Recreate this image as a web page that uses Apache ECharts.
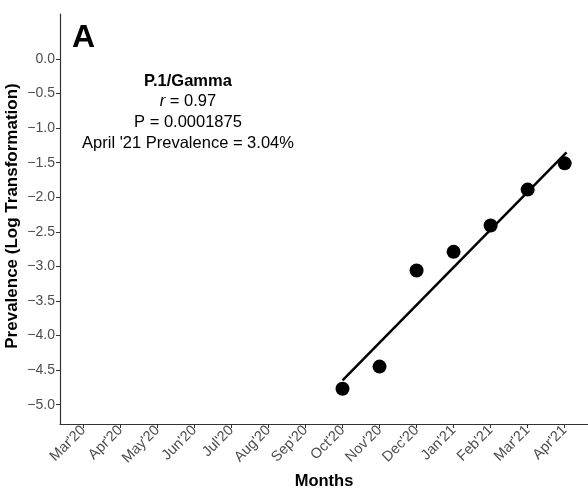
<!DOCTYPE html>
<html>
<head>
<meta charset="utf-8">
<script src="https://cdn.jsdelivr.net/npm/echarts@6/dist/echarts.min.js"></script>
<style>
  html, body { margin: 0; padding: 0; background: #fff; }
  #chart { width: 588px; height: 493px; }
</style>
</head>
<body>
<div id="chart"></div>
<script>
const months = ["Mar'20", "Apr'20", "May'20", "Jun'20", "Jul'20", "Aug'20", "Sep'20",
  "Oct'20", "Nov'20", "Dec'20", "Jan'21", "Feb'21", "Mar'21", "Apr'21"];
const pointMonths = [7, 8, 9, 10, 11, 12, 13];
const prevalence = [-4.77, -4.45, -3.06, -2.79, -2.41, -1.89, -1.51];
const fitX = [7, 13.05];
const fitY = [-4.65, -1.35];
const yTicks = [0, -0.5, -1, -1.5, -2, -2.5, -3, -3.5, -4, -4.5, -5];

const font = 'Liberation Sans';
const chart = echarts.init(document.getElementById('chart'));

chart.setOption({
  animation: false,
  textStyle: { fontFamily: font },
  grid: { left: 60, right: 0, top: 14, bottom: 69, containLabel: false, outerBoundsMode: 'none' },
  xAxis: {
    type: 'value',
    min: -0.63,
    max: 13.63,
    name: 'Months',
    nameLocation: 'middle',
    nameGap: 49,
    nameMoveOverlap: false,
    nameTextStyle: { fontFamily: font, fontSize: 16.5, fontWeight: 'bold', color: '#000' },
    splitLine: { show: false },
    axisLine: { show: true, onZero: false, lineStyle: { color: '#333', width: 1.2 } },
    axisTick: { show: true, length: 4, customValues: months.map((m, i) => i), lineStyle: { color: '#333' } },
    axisLabel: {
      customValues: months.map((m, i) => i),
      formatter: v => months[Math.round(v)],
      rotate: 45,
      color: '#4d4d4d',
      fontSize: 14.5,
      margin: 4
    }
  },
  yAxis: {
    type: 'value',
    min: -5.28,
    max: 0.65,
    splitLine: { show: false },
    axisLine: { show: true, onZero: false, lineStyle: { color: '#333', width: 1.2 } },
    axisTick: { show: true, length: 4, customValues: yTicks, lineStyle: { color: '#333' } },
    axisLabel: {
      customValues: yTicks,
      formatter: v => v.toFixed(1).replace('-', '\u2212'),
      color: '#4d4d4d',
      fontSize: 14,
      margin: 5
    }
  },
  series: [
    {
      type: 'line',
      data: fitX.map((x, i) => [x, fitY[i]]),
      showSymbol: false,
      lineStyle: { color: '#000', width: 2.5 },
      z: 2
    },
    {
      type: 'scatter',
      data: pointMonths.map((x, i) => [x, prevalence[i]]),
      symbolSize: 14,
      itemStyle: { color: '#000', opacity: 1 },
      z: 3
    }
  ],
  graphic: [
    {
      type: 'text',
      x: 12,
      y: 216,
      rotation: Math.PI / 2,
      style: {
        text: 'Prevalence (Log Transformation)',
        align: 'center',
        verticalAlign: 'middle',
        fontFamily: font,
        fontSize: 17,
        fontWeight: 'bold',
        fill: '#000'
      }
    },
    {
      type: 'text',
      left: 72,
      top: 22,
      style: { text: 'A', fontFamily: font, fontSize: 32, fontWeight: 'bold', fill: '#000' }
    },
    {
      type: 'text',
      x: 188,
      y: 71,
      style: {
        text: '{b|P.1/Gamma}\n{i|r} = 0.97\nP = 0.0001875\nApril \'21 Prevalence = 3.04%',
        align: 'center',
        fontFamily: font,
        fontSize: 16.5,
        lineHeight: 20.6,
        fill: '#000',
        rich: {
          b: { fontFamily: font, fontSize: 16.5, fontWeight: 'bold', fill: '#000' },
          i: { fontFamily: font, fontSize: 16.5, fontStyle: 'italic', fill: '#000' }
        }
      }
    }
  ]
});
</script>
</body>
</html>
